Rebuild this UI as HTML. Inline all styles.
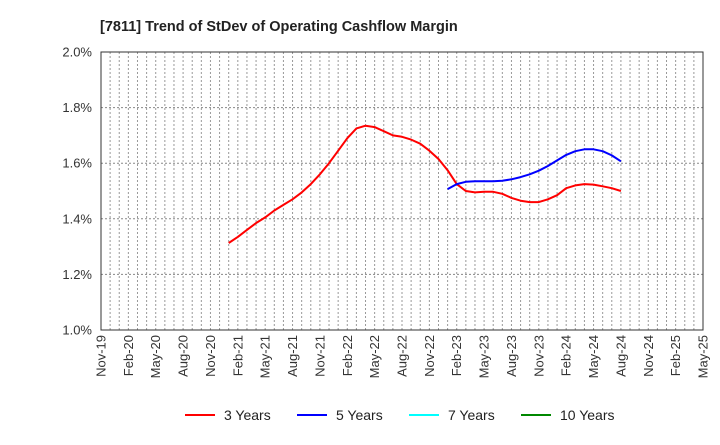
<!DOCTYPE html>
<html><head><meta charset="utf-8"><style>
body{margin:0;background:#fff;font-family:"Liberation Sans",sans-serif;}
</style></head><body>
<svg width="720" height="440" xmlns="http://www.w3.org/2000/svg" font-family="Liberation Sans, sans-serif">
<text x="100" y="31" font-size="14.5" font-weight="bold" fill="#222">[7811]  Trend of StDev of Operating Cashflow Margin</text>
<g id="grid"></g>
<g id="yaxis"></g>
<g id="xaxis"></g>
<g id="series"></g>
<rect x="101" y="52" width="602" height="278" fill="none" stroke="#333" stroke-width="1"/>
<g>
<g><line x1="185" y1="415" x2="215" y2="415" stroke="#f00" stroke-width="2"/><text x="224" y="420" font-size="14" fill="#222">3 Years</text></g>
<g><line x1="297" y1="415" x2="327" y2="415" stroke="#00f" stroke-width="2"/><text x="336" y="420" font-size="14" fill="#222">5 Years</text></g>
<g><line x1="409" y1="415" x2="439" y2="415" stroke="#0ff" stroke-width="2"/><text x="448" y="420" font-size="14" fill="#222">7 Years</text></g>
<g><line x1="521" y1="415" x2="551" y2="415" stroke="#080" stroke-width="2"/><text x="560" y="420" font-size="14" fill="#222">10 Years</text></g>
</g>
</svg>
<script>
const xLabels=["Nov-19","Feb-20","May-20","Aug-20","Nov-20","Feb-21","May-21","Aug-21","Nov-21","Feb-22","May-22","Aug-22","Nov-22","Feb-23","May-23","Aug-23","Nov-23","Feb-24","May-24","Aug-24","Nov-24","Feb-25","May-25"];
const yTicks=[1.0,1.2,1.4,1.6,1.8,2.0];
const red3Start=14;
const red3=[1.313,1.335,1.36,1.385,1.405,1.43,1.45,1.47,1.495,1.525,1.56,1.60,1.645,1.69,1.725,1.735,1.73,1.715,1.70,1.695,1.685,1.67,1.645,1.615,1.575,1.525,1.50,1.495,1.497,1.497,1.49,1.475,1.465,1.46,1.46,1.47,1.485,1.51,1.52,1.525,1.523,1.517,1.51,1.50];
const blue5Start=38;
const blue5=[1.507,1.525,1.533,1.535,1.535,1.535,1.537,1.542,1.55,1.56,1.573,1.59,1.61,1.63,1.643,1.65,1.65,1.643,1.628,1.607];
const NS="http://www.w3.org/2000/svg";
const X0=101,X1=703,Y0=330,Y1=52,MONTHS=66;
function xs(m){return X0+m*(X1-X0)/MONTHS;}
function ys(v){return Y0-(v-1.0)/(2.0-1.0)*(Y0-Y1);}
function mk(t,a,p){const e=document.createElementNS(NS,t);for(const k in a)e.setAttribute(k,a[k]);p.appendChild(e);return e;}
const grid=document.getElementById('grid'),ya=document.getElementById('yaxis'),xa=document.getElementById('xaxis'),ser=document.getElementById('series');
for(let m=1;m<MONTHS;m++){const l=mk('line',{x1:xs(m),x2:xs(m),y1:Y1,y2:Y0,stroke:'#999','stroke-dasharray':'2,2','stroke-width':1},grid);

}
yTicks.forEach(v=>{if(v>1.0&&v<2.0){const l=mk('line',{x1:X0,x2:X1,y1:ys(v),y2:ys(v),stroke:'#888','stroke-dasharray':'2,2','stroke-width':1},grid);

}
const t=mk('text',{x:92,y:ys(v)+4.5,'font-size':13,'text-anchor':'end',fill:'#333'},ya);t.textContent=v.toFixed(1)+'%';

});
xLabels.forEach((s,i)=>{const x=xs(i*3)+4.5,y=335;const t=mk('text',{x:x,y:y,'font-size':13,'text-anchor':'end',fill:'#333',transform:`rotate(-90 ${x} ${y})`},xa);t.textContent=s;

});
function line(arr,start,color,name){const pts=arr.map((v,i)=>xs(start+i).toFixed(1)+','+ys(v).toFixed(1)).join(' ');
const p=mk('polyline',{points:pts,fill:'none',stroke:color,'stroke-width':2,'stroke-linejoin':'round'},ser);

}
line(red3,red3Start,'#f00','line-3-years');
line(blue5,blue5Start,'#00f','line-5-years');
</script>
</body></html>
